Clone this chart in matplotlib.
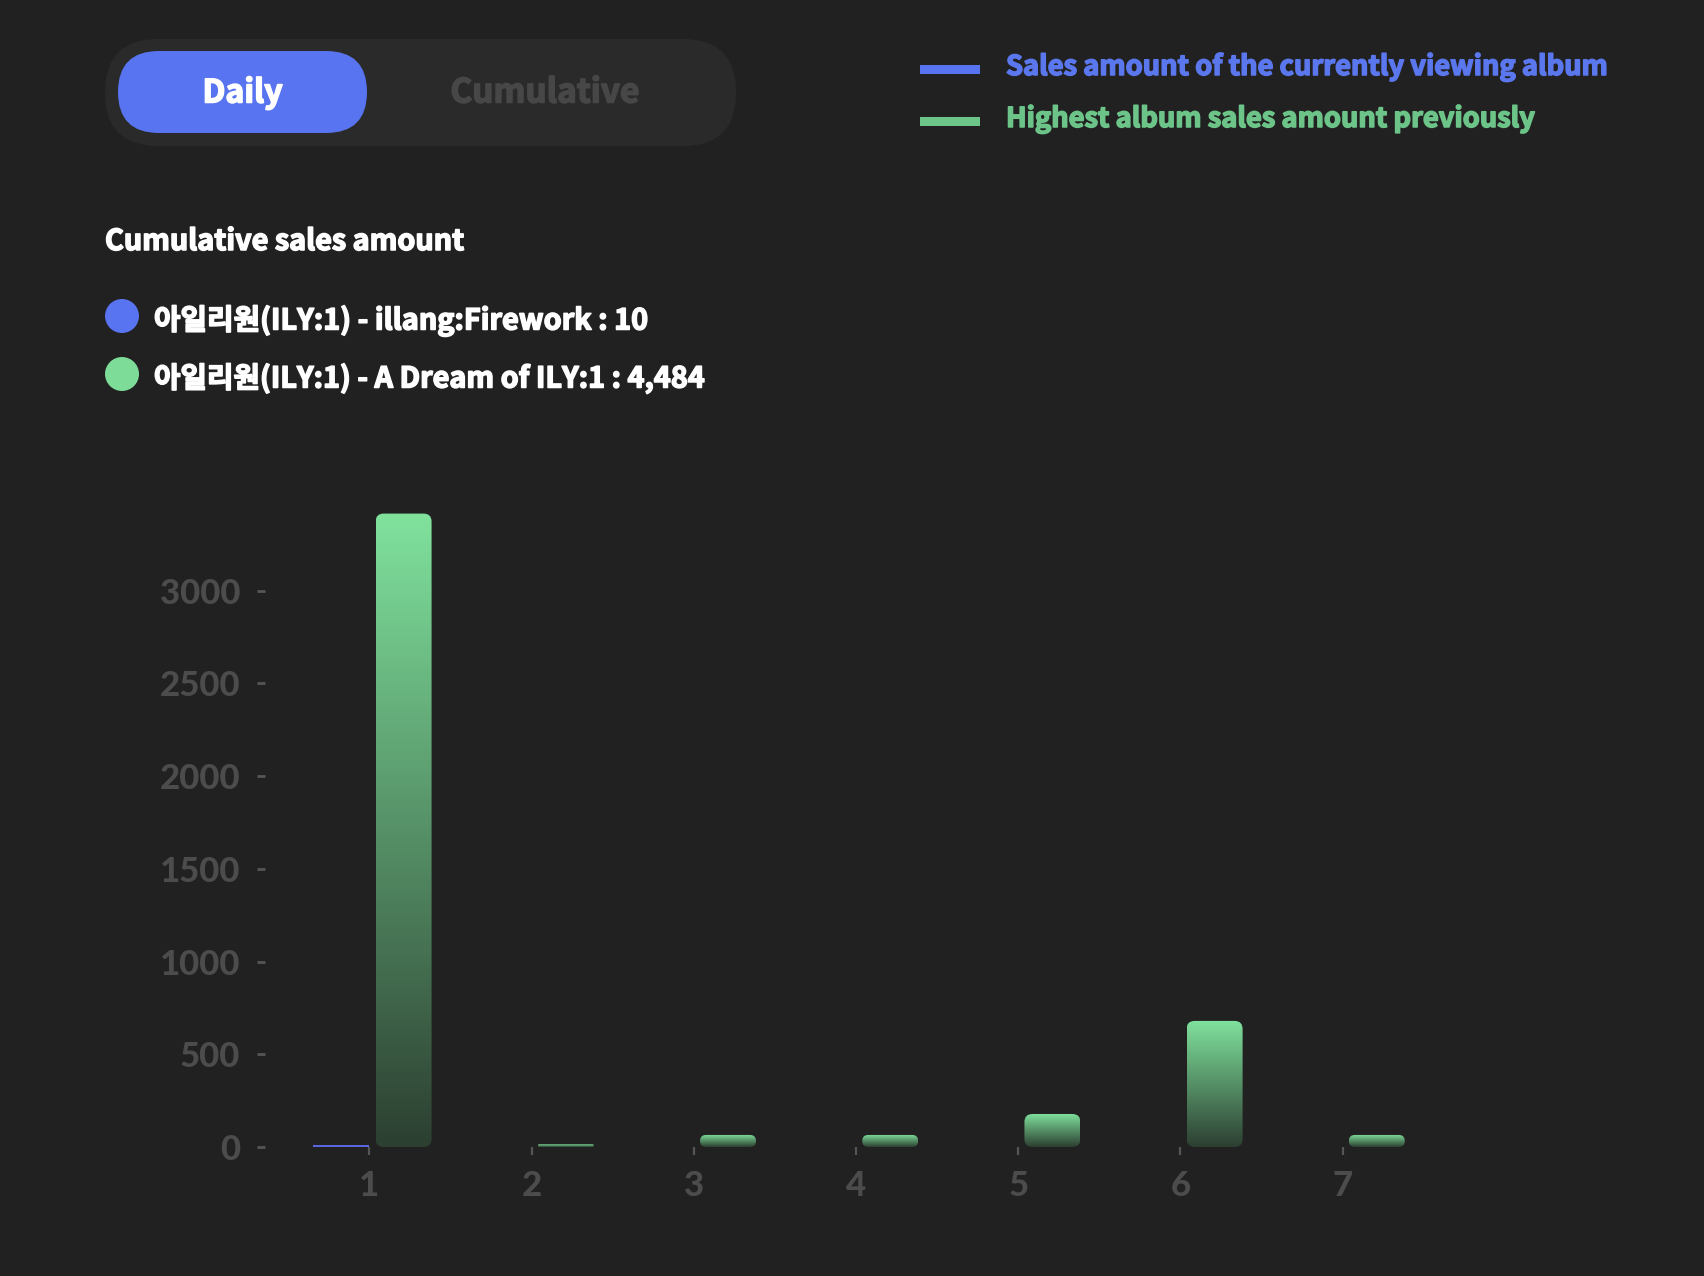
"""
앨범 일별 판매량 비교 차트 (현재 앨범 vs 이전 최고 앨범)
Output: out.png
"""
import numpy as np
import matplotlib
matplotlib.use("Agg")
import matplotlib.pyplot as plt
import matplotlib.patheffects as pe
from matplotlib.patches import FancyBboxPatch, Circle, Rectangle
from matplotlib.colors import LinearSegmentedColormap

plt.rcParams["font.family"] = ["Noto Sans CJK KR", "DejaVu Sans"]
plt.rcParams["font.weight"] = "bold"

# data
days = [1, 2, 3, 4, 5, 6, 7]
current_sales = [10, 0, 0, 0, 0, 0, 0]
previous_best = [3416, 15, 65, 65, 178, 680, 65]
y_ticks = [0, 500, 1000, 1500, 2000, 2500, 3000]

toggle_labels = ["Daily", "Cumulative"]
legend_labels = ["Sales amount of the currently viewing album",
                 "Highest album sales amount previously"]
summary_title = "Cumulative sales amount"
album_names = ["아일리원(ILY:1) - illang:Firework",
               "아일리원(ILY:1) - A Dream of ILY:1"]

BG = "#212121"
BLUE = "#5874f0"
GREEN = "#7ddc98"
TICK = "#4c4c4c"

W, H = 1704, 1276
fig = plt.figure(figsize=(W / 100, H / 100), dpi=100, facecolor=BG)

# 배경용 픽셀 좌표 axes
bg = fig.add_axes([0, 0, 1, 1])
bg.set_xlim(0, W); bg.set_ylim(H, 0)
bg.axis("off")


def fit_width(t, width_px):
    r = fig.canvas.get_renderer()
    w = t.get_window_extent(r).width
    t.set_fontsize(t.get_fontsize() * width_px / w)
    # 굵기 보정 (원본 글꼴이 더 두꺼움)
    t.set_path_effects([pe.withStroke(linewidth=1.1, foreground=t.get_color())])


# toggle
bg.add_patch(FancyBboxPatch((105, 39), 631, 107, boxstyle="round,pad=0,rounding_size=53.5",
                            fc="#2a2a2a", ec="none"))
bg.add_patch(FancyBboxPatch((118, 51), 249, 82, boxstyle="round,pad=0,rounding_size=41",
                            fc=BLUE, ec="none"))
t = bg.text(242.5, 102.5, toggle_labels[0], ha="center", va="baseline", color="white", fontsize=25)
fit_width(t, 80)
t = bg.text(545, 102.5, toggle_labels[1], ha="center", va="baseline", color="#474747", fontsize=25)
fit_width(t, 189)

# 범례 (우측 상단)
bg.add_patch(Rectangle((920, 65), 60, 9, fc=BLUE, ec="none"))
bg.add_patch(Rectangle((920, 117), 60, 9, fc="#6cc489", ec="none"))
t = bg.text(1006, 75, legend_labels[0], ha="left", va="baseline", color="#5b77ee", fontsize=24)
fit_width(t, 602)
t = bg.text(1006, 127, legend_labels[1], ha="left", va="baseline", color="#6cc489", fontsize=24)
fit_width(t, 529)

# 누적 판매량 요약
t = bg.text(105, 250, summary_title, ha="left", va="baseline", color="white", fontsize=22)
fit_width(t, 359)
totals = [sum(current_sales), sum(previous_best)]
for i, (name, tot, col, w) in enumerate(zip(album_names, totals, [BLUE, GREEN], [494, 550])):
    yc = 316 + i * 58
    bg.add_patch(Circle((122, yc), 17, fc=col, ec="none"))
    t = bg.text(154, yc + 13.5, f"{name} : {tot:,}", ha="left", va="baseline",
                color="white", fontsize=22)
    fit_width(t, w)

# chart axes
left, right, top, bottom = 265, 1440, 498, 1147
ax = fig.add_axes([left / W, (H - bottom) / H, (right - left) / W, (bottom - top) / H])
ax.set_facecolor("none")
XMIN, XMAX, YMAX = 0.356, 7.6, 3500
ax.set_xlim(XMIN, XMAX); ax.set_ylim(0, YMAX)

p0, p1 = ax.transData.transform([[0, 0], [1, 1]])
px_x, px_y = p1 - p0
aspect = px_x / px_y

cmap = LinearSegmentedColormap.from_list("g", ["#2c3f31", "#80e29d"])
grad = np.linspace(1, 0, 256).reshape(-1, 1)
bw, gap = 0.345, 0.038
for d, v in zip(days, previous_best):
    x0 = d + gap
    r_px = min(8, bw * px_x / 2, v * px_y / 2)
    patch = FancyBboxPatch((x0, 0), bw, v,
                           boxstyle=f"round,pad=0,rounding_size={r_px / px_x}",
                           mutation_aspect=aspect, fc="none", ec="none")
    ax.add_patch(patch)
    im = ax.imshow(grad, extent=[x0, x0 + bw, 0, v], cmap=cmap, aspect="auto",
                   origin="upper", vmin=0, vmax=1)
    im.set_clip_path(patch)

ax.bar([d - 0.35 for d in days], current_sales, width=0.35, align="edge", color="#5a66e0")

ax.set_xlim(XMIN, XMAX); ax.set_ylim(0, YMAX)
ax.set_xticks(days)
ax.set_yticks(y_ticks)
for s in ax.spines.values():
    s.set_visible(False)
ax.tick_params(axis="x", length=5.8, width=1.6, color="#555555", pad=10.5)
ax.tick_params(axis="y", length=5.8, width=2.0, color="#555555", pad=12)
for lab in ax.get_xticklabels() + ax.get_yticklabels():
    lab.set_fontfamily("Lato")
    lab.set_fontweight("black")
    lab.set_fontsize(25)
    lab.set_color(TICK)

fig.savefig("out.png", dpi=100, facecolor=BG)
